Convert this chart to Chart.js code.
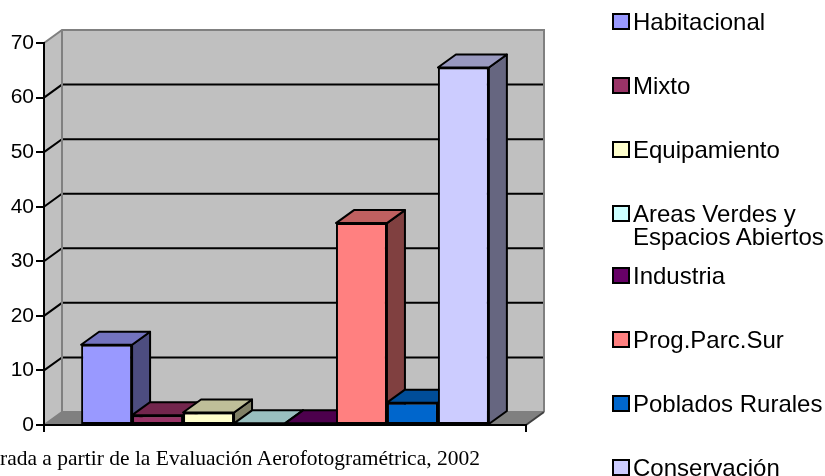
<!DOCTYPE html>
<html>
<head>
<meta charset="utf-8">
<script src="https://cdn.jsdelivr.net/npm/chart.js@4/dist/chart.umd.min.js"></script>
<style>
  html, body { margin: 0; padding: 0; background: #fff; }
  #wrap { position: relative; width: 825px; height: 476px; overflow: hidden; }
  #c { position: absolute; left: 0; top: 0; }
  .leg { position: absolute; left: 612px; font-family: 'Liberation Sans', Arial, sans-serif; font-size: 24px; line-height: 23px; color: #000; }
  .leg .box { position: absolute; left: 0; top: 3px; width: 14px; height: 13px; border: 2px solid #000; }
  .leg .txt { position: absolute; left: 21px; top: 0; white-space: pre; }
  #note { position: absolute; left: 0; top: 447px; font-family: 'Liberation Serif', 'Times New Roman', serif; font-size: 21.5px; line-height: 22px; color: #000; white-space: nowrap; }
</style>
</head>
<body>
<div id="wrap">
  <canvas id="c" width="825" height="476"></canvas>
  <div id="legend"></div>
  <div id="note">rada a partir de la Evaluación Aerofotogramétrica, 2002</div>
</div>
<script>
// ---- data ----
const categories = ['Habitacional', 'Mixto', 'Equipamiento', 'Areas Verdes y\nEspacios Abiertos', 'Industria', 'Prog.Parc.Sur', 'Poblados Rurales', 'Conservación'];
const values = [14.7, 1.8, 2.3, 0.3, 0.3, 37.0, 4.1, 65.5];
const colors = ['#9999FF', '#993366', '#FFFFCC', '#CCFFFF', '#660066', '#FF8080', '#0066CC', '#CCCCFF'];
const yMin = 0, yMax = 70, yStep = 10;

// ---- helpers ----
function shade(hex, f) {
  const n = parseInt(hex.slice(1), 16);
  const r = Math.round(((n >> 16) & 255) * f), g = Math.round(((n >> 8) & 255) * f), b = Math.round((n & 255) * f);
  return 'rgb(' + r + ',' + g + ',' + b + ')';
}
const DX = 18, DY = -13;

const threeD = {
  id: 'threeD',
  beforeDraw(chart) {
    const ctx = chart.ctx;
    const { left, top, right, bottom } = chart.chartArea;
    const ys = chart.scales.y;
    ctx.save();
    // back wall
    ctx.fillStyle = '#C0C0C0';
    ctx.fillRect(left + DX, top + DY, right - left, bottom - top);
    // side wall
    ctx.beginPath();
    ctx.moveTo(left, top); ctx.lineTo(left + DX, top + DY); ctx.lineTo(left + DX, bottom + DY); ctx.lineTo(left, bottom);
    ctx.closePath(); ctx.fill();
    // floor
    ctx.fillStyle = '#808080';
    ctx.beginPath();
    ctx.moveTo(left, bottom); ctx.lineTo(right, bottom); ctx.lineTo(right + DX, bottom + DY); ctx.lineTo(left + DX, bottom + DY);
    ctx.closePath(); ctx.fill();
    // grid lines
    ctx.lineWidth = 2;
    ctx.strokeStyle = '#000';
    ys.ticks.forEach(t => {
      if (t.value <= yMin || t.value >= yMax) return;
      const y = ys.getPixelForValue(t.value);
      ctx.beginPath();
      ctx.moveTo(left, y); ctx.lineTo(left + DX, y + DY); ctx.lineTo(right + DX, y + DY);
      ctx.stroke();
    });
    // wall edges
    ctx.strokeStyle = '#808080';
    ctx.beginPath();
    ctx.moveTo(left, top); ctx.lineTo(left + DX, top + DY); ctx.lineTo(right + DX, top + DY); ctx.lineTo(right + DX, bottom + DY);
    ctx.moveTo(left + DX, top + DY); ctx.lineTo(left + DX, bottom + DY); ctx.lineTo(right + DX, bottom + DY);
    ctx.moveTo(left, bottom); ctx.lineTo(left + DX, bottom + DY);
    ctx.stroke();
    ctx.strokeStyle = '#404040';
    ctx.beginPath();
    ctx.moveTo(right, bottom); ctx.lineTo(right + DX, bottom + DY);
    ctx.stroke();
    ctx.restore();
  },
  beforeDatasetsDraw(chart) {
    const ctx = chart.ctx;
    ctx.save();
    ctx.lineWidth = 2;
    ctx.strokeStyle = '#000';
    ctx.lineJoin = 'round';
    chart.data.datasets.forEach((ds, i) => {
      const meta = chart.getDatasetMeta(i);
      meta.data.forEach(el => {
        const { x, y, base, width } = el.getProps(['x', 'y', 'base', 'width'], true);
        const l = x - width / 2, r = x + width / 2;
        const c = ds.backgroundColor;
        // side
        ctx.fillStyle = shade(c, 0.5);
        ctx.beginPath();
        ctx.moveTo(r, y); ctx.lineTo(r + DX, y + DY); ctx.lineTo(r + DX, base + DY); ctx.lineTo(r, base);
        ctx.closePath(); ctx.fill(); ctx.stroke();
        // top
        ctx.fillStyle = shade(c, 0.75);
        ctx.beginPath();
        ctx.moveTo(l, y); ctx.lineTo(l + DX, y + DY); ctx.lineTo(r + DX, y + DY); ctx.lineTo(r, y);
        ctx.closePath(); ctx.fill(); ctx.stroke();
      });
    });
    ctx.restore();
  }
};

Chart.defaults.font.family = "'Liberation Sans', Arial, sans-serif";
Chart.defaults.color = '#000';

const chart = new Chart(document.getElementById('c'), {
  type: 'bar',
  data: {
    labels: [''],
    datasets: categories.map((name, i) => ({
      label: name,
      data: [values[i]],
      backgroundColor: colors[i],
      borderColor: '#000',
      borderWidth: 2,
      borderSkipped: false,
      categoryPercentage: 0.846,
      barPercentage: 1.0
    }))
  },
  options: {
    responsive: false,
    animation: false,
    layout: { padding: { top: 43, right: 299, bottom: 0, left: 0 } },
    plugins: { legend: { display: false }, tooltip: { enabled: false }, title: { display: false } },
    scales: {
      x: {
        afterFit: s => { s.height = 51; },
        grid: { offset: true, drawOnChartArea: false, drawTicks: true, tickLength: 7, color: '#000', lineWidth: 2 },
        border: { display: true, color: '#000', width: 2 },
        ticks: { display: false }
      },
      y: {
        min: yMin, max: yMax,
        afterFit: s => { s.width = 44; },
        grid: { drawOnChartArea: false, drawTicks: true, tickLength: 8, color: '#000', lineWidth: 2 },
        border: { display: true, color: '#000', width: 2 },
        ticks: { stepSize: yStep, padding: 2, font: { size: 21 }, color: '#000' }
      }
    }
  },
  plugins: [threeD]
});

// ---- legend (HTML, built from the same arrays) ----
const legend = document.getElementById('legend');
categories.forEach((name, i) => {
  const item = document.createElement('div');
  item.className = 'leg';
  item.style.top = (9.5 + 64 * i - (i >= 4 ? 2 : 0)) + 'px';
  const box = document.createElement('div');
  box.className = 'box';
  box.style.background = colors[i];
  const txt = document.createElement('div');
  txt.className = 'txt';
  txt.textContent = name;
  item.appendChild(box); item.appendChild(txt);
  legend.appendChild(item);
});
</script>
</body>
</html>
